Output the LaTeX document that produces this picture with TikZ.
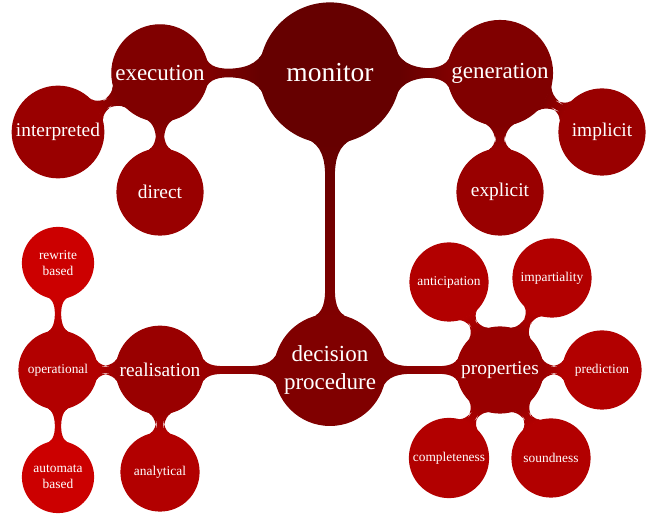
\documentclass[tikz,border=0pt]{standalone}
\usepackage{fontspec}
\setmainfont{Liberation Serif}
\usetikzlibrary{mindmap}
\colorlet{levelzero}{red!40!black}
\colorlet{levelone}{red!50!black}
\colorlet{leveltwo}{red!60!black}
\colorlet{levelthree}{red!70!black}
\colorlet{levelfour}{red!80!black}
\tikzset{
  idea/.style={concept, text width=, text=white, align=center, inner sep=2.5pt},
  root idea/.style={idea, concept color=levelzero, minimum size=140pt,
    font=\fontsize{27.5}{30}\selectfont},
  first idea/.style={idea, concept color=levelone, minimum size=80pt,
    font=\fontsize{23}{28}\selectfont},
  second idea/.style={idea, concept color=leveltwo, minimum size=86pt,
    font=\fontsize{19.4}{23}\selectfont},
  third idea/.style={idea, concept color=levelthree, minimum size=78pt,
    font=\fontsize{13.4}{16}\selectfont},
  fourth idea/.style={idea, concept color=levelfour, minimum size=71pt,
    font=\fontsize{13.4}{16}\selectfont},
  link/.style={line width=10pt}
}

\begin{document}
\begin{tikzpicture}[mindmap, x=1pt, y=1pt]
	\useasboundingbox (0,0) rectangle (651,514);
	% top tree
	\node[root idea] (monitor) at (330,441) {monitor};
	\node[first idea] (execution) at (160,441) {execution};
	\node[first idea] (generation) at (500,441) {generation};
	\node[second idea] (interpreted) at (58,382) {interpreted};
	\node[second idea] (direct) at (160,322) {direct};
	\node[second idea] (implicit) at (602,382) {implicit};
	\node[second idea] (explicit) at (500,322) {explicit};
	% bottom tree
	\node[first idea] (decision) at (330,144) {decision\\procedure};
	\node[second idea] (realisation) at (160,144) {realisation};
	\node[second idea] (properties) at (500,144) {properties};
	\node[third idea] (operational) at (58,144) {operational};
	\node[third idea] (analytical) at (160,42) {analytical};
	\node[fourth idea] (rewrite) at (58,251) {rewrite\\based};
	\node[fourth idea] (automata) at (58,37) {automata\\based};
	\node[third idea] (anticipation) at (449,232) {anticipation};
	\node[third idea] (impartiality) at (552,236) {impartiality};
	\node[third idea] (prediction) at (602,144) {prediction};
	\node[third idea] (soundness) at (551,56) {soundness};
	\node[third idea] (completeness) at (449,56) {completeness};

	\foreach \from/\to/\cfrom/\cto in {
		monitor/execution/levelzero/levelone,
		monitor/generation/levelzero/levelone,
		monitor/decision/levelzero/levelone,
		execution/interpreted/levelone/leveltwo,
		execution/direct/levelone/leveltwo,
		generation/implicit/levelone/leveltwo,
		generation/explicit/levelone/leveltwo,
		decision/realisation/levelone/leveltwo,
		decision/properties/levelone/leveltwo,
		realisation/operational/leveltwo/levelthree,
		realisation/analytical/leveltwo/levelthree,
		operational/rewrite/levelthree/levelfour,
		operational/automata/levelthree/levelfour,
		properties/anticipation/leveltwo/levelthree,
		properties/impartiality/leveltwo/levelthree,
		properties/prediction/leveltwo/levelthree,
		properties/soundness/leveltwo/levelthree,
		properties/completeness/leveltwo/levelthree}
		\path[link] (\from) to[circle connection bar switch color=from (\cfrom) to (\cto)] (\to);
\end{tikzpicture}
\end{document}
